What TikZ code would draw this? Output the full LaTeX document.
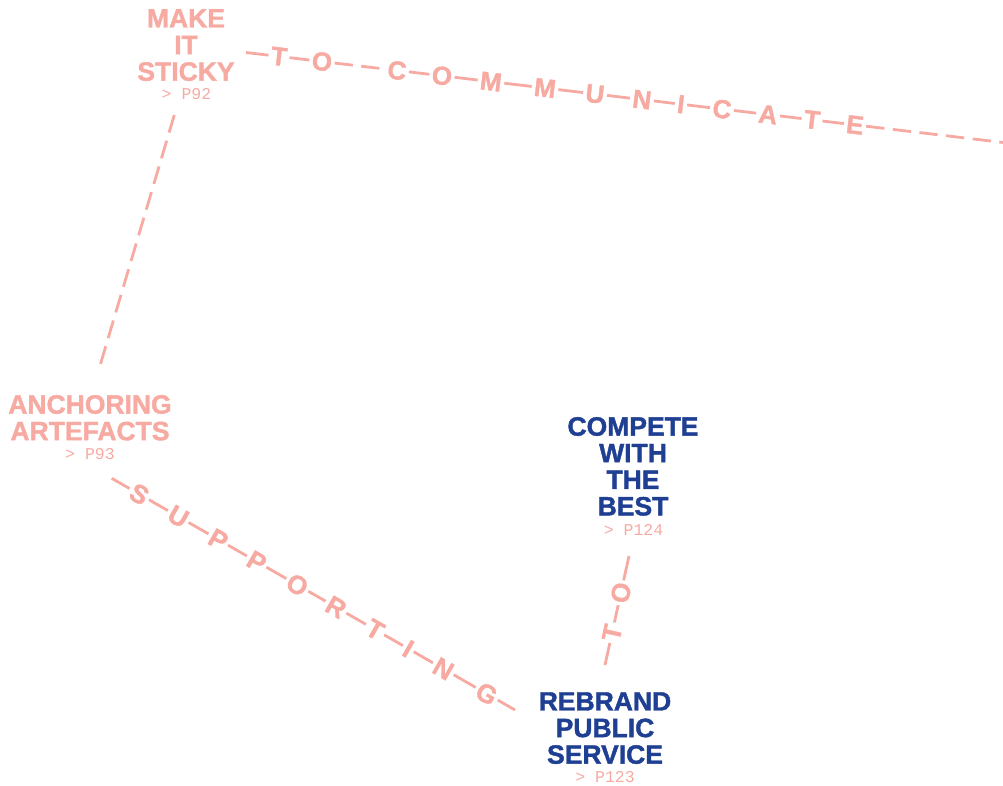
\documentclass[tikz,border=0pt]{standalone}
\usepackage{fontspec}
\setmainfont{Liberation Sans}
\newfontfamily\heavyfam{Liberation Sans Bold}[FakeBold=1.5]
\newfontfamily\monofam{Liberation Mono}
\usetikzlibrary{calc}
\definecolor{pinkc}{HTML}{F7AAA2}
\definecolor{bluec}{HTML}{1F3F93}
\newcommand\ttlfont{\heavyfam\fontsize{26.5}{26.6}\selectfont}
\newcommand\ltfont{\heavyfam\fontsize{26}{26}\selectfont}
\newcommand\reffont{\monofam\fontsize{16.5}{16.5}\selectfont}
\begin{document}
\begin{tikzpicture}[x=1pt,y=-1pt,
  ttl/.style={font=\ttlfont, align=center, inner sep=0pt, anchor=center},
  pref/.style={font=\reffont, text=pinkc, inner sep=0pt, anchor=base},
  lt/.style={font=\ltfont, text=pinkc, sloped, inner sep=2.6pt, outer sep=0pt},
  conn/.style={draw=pinkc, line width=2.8pt},
  dconn/.style={conn, dash pattern=on 18.3pt off 8.5pt}]
\useasboundingbox (0,0) rectangle (1003,786);

% titles
\node[ttl, text=pinkc] (sticky) at (186,45.1) {MAKE\\IT\\STICKY};
\node[pref] (stickyref) at (186.5,100) {> P92};
\node[ttl, text=pinkc] (anchor) at (90,417.8) {ANCHORING\\ARTEFACTS};
\node[pref] (anchorref) at (90,459) {> P93};
\node[ttl, text=bluec] (compete) at (633,466.4) {COMPETE\\WITH\\THE\\BEST};
\node[pref] (competeref) at (633.5,535) {> P124};
\node[ttl, text=bluec] (rebrand) at (605,728.1) {REBRAND\\PUBLIC\\SERVICE};
\node[pref] (rebrandref) at (605,782) {> P123};

% connector ends
\coordinate (kA) at (174.3,115);
\coordinate (kB) at (100,365.7);
\coordinate (cA) at (246,52.5);
\coordinate (cB) at (1003,142.5);
\coordinate (sA) at (111.7,478.3);
\coordinate (sB) at (515,710);
\coordinate (tA) at (605,665);
\coordinate (tB) at (629,556);

% sticky -> anchoring
\draw[dconn] (kA) -- (kB);

% TO COMMUNICATE
\path (cA) -- (cB)
  node[lt,pos=0.0436] (c1) {T}
  node[lt,pos=0.1004] (c2) {O}
  node[lt,pos=0.1995] (c3) {C}
  node[lt,pos=0.2589] (c4) {O}
  node[lt,pos=0.3236] (c5) {M}
  node[lt,pos=0.3950] (c6) {M}
  node[lt,pos=0.4610] (c7) {U}
  node[lt,pos=0.5231] (c8) {N}
  node[lt,pos=0.5746] (c9) {I}
  node[lt,pos=0.6288] (c10) {C}
  node[lt,pos=0.6896] (c11) {A}
  node[lt,pos=0.7477] (c12) {T}
  node[lt,pos=0.8045] (c13) {E};
\foreach \a/\b in {cA/c1,c1/c2,c3/c4,c4/c5,c5/c6,c6/c7,c7/c8,c8/c9,c9/c10,c10/c11,c11/c12,c12/c13}
  \draw[conn] (\a) -- (\b);
\draw[dconn] (c2) -- (c3);
\draw[dconn] (c13) -- (cB);

% SUPPORTING
\path (sA) -- (sB)
  node[lt,pos=0.0684] (s1) {S}
  node[lt,pos=0.1651] (s2) {U}
  node[lt,pos=0.2643] (s3) {P}
  node[lt,pos=0.3595] (s4) {P}
  node[lt,pos=0.4602] (s5) {O}
  node[lt,pos=0.5562] (s6) {R}
  node[lt,pos=0.6529] (s7) {T}
  node[lt,pos=0.7354] (s8) {I}
  node[lt,pos=0.8222] (s9) {N}
  node[lt,pos=0.9298] (s10) {G};
\foreach \a/\b in {sA/s1,s1/s2,s2/s3,s3/s4,s4/s5,s5/s6,s6/s7,s7/s8,s8/s9,s9/s10,s10/sB}
  \draw[conn] (\a) -- (\b);

% TO
\path (tA) -- (tB)
  node[lt,pos=0.296] (t1) {T}
  node[lt,pos=0.663] (t2) {O};
\foreach \a/\b in {tA/t1,t1/t2,t2/tB}
  \draw[conn] (\a) -- (\b);
\end{tikzpicture}
\end{document}
